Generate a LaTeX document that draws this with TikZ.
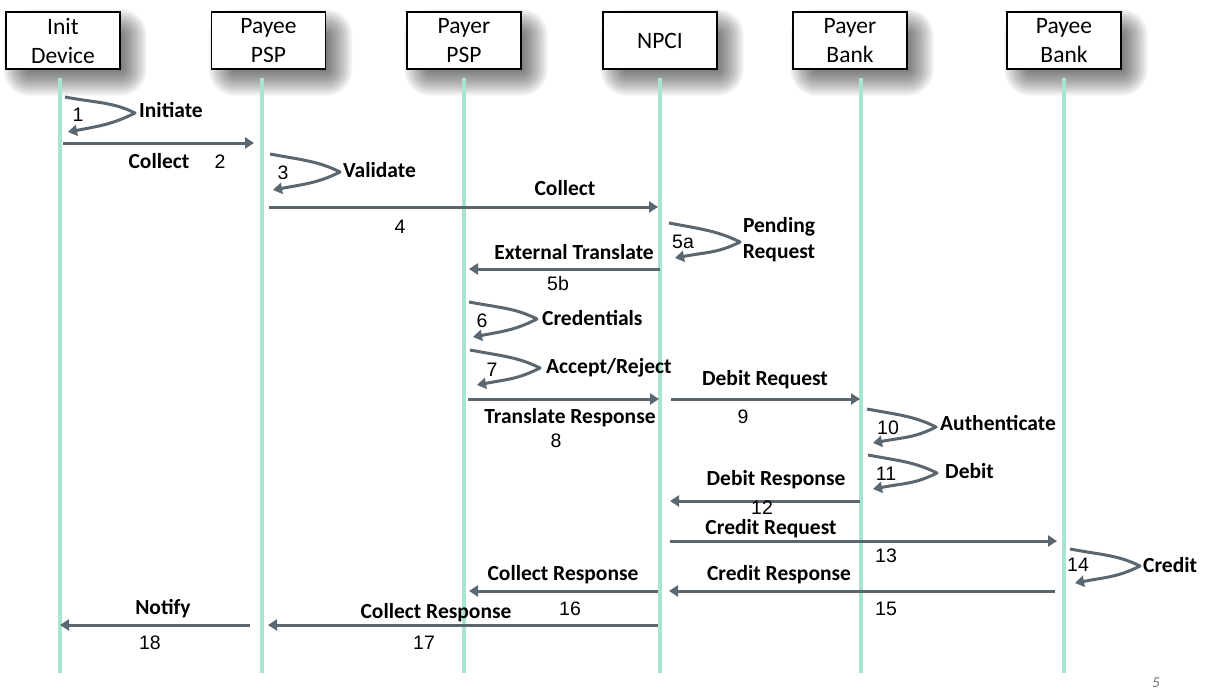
\documentclass[tikz,border=0pt]{standalone}
\usepackage{fontspec}
\setmainfont{Carlito}
\newfontfamily\numfont{Liberation Sans}
\usetikzlibrary{arrows.meta,backgrounds}
\definecolor{lifegreen}{RGB}{166,230,208}
\definecolor{msggray}{RGB}{90,103,112}

\begin{document}
\begin{tikzpicture}[x=1pt,y=-1pt,
    actor/.style={draw,line width=1.2pt,fill=white,minimum width=114pt,minimum height=57pt,
      align=center,font=\fontsize{23.5}{29}\selectfont},
    life/.style={lifegreen,line width=4pt},
    msg/.style={msggray,line width=3pt,line join=round,-{Triangle[length=9pt,width=11pt]}},
    lbl/.style={font=\fontsize{21.5}{26}\selectfont\bfseries,align=center,inner sep=0pt,
      text height=14pt,text depth=4pt},
    num/.style={font=\numfont\fontsize{19.5}{22}\selectfont,inner sep=0pt,
      text height=14pt,text depth=0pt}]
  \useasboundingbox (0,0) rectangle (1205,691);

  % actors
  \node[actor] (init) at (63,40.5) {Init\\Device};
  \node[actor] (payeepsp) at (268.5,40.5) {Payee\\PSP};
  \node[actor] (payerpsp) at (464,40.5) {Payer\\PSP};
  \node[actor] (npci) at (660,40.5) {NPCI};
  \node[actor] (payerbank) at (850,40.5) {Payer\\Bank};
  \node[actor] (payeebank) at (1064,40.5) {Payee\\Bank};

  % soft shadows
  \begin{scope}[on background layer]
    \foreach \b in {init,payeepsp,payerpsp,npci,payerbank,payeebank}
      \foreach \i in {0,...,13}
        \fill[black,opacity=0.05,rounded corners=2*\i pt]
          ([shift={(24-2*\i,2*\i)}]\b.south west) rectangle ([shift={(2*\i,24-2*\i)}]\b.north east);
  \end{scope}

  % lifelines
  \foreach \n/\x in {init/60,payeepsp/262,payerpsp/464,npci/660,payerbank/861,payeebank/1064}{
    \coordinate (\n-top) at (\x,78);
    \coordinate (\n-bot) at (\x,673);
    \draw[life] (\n-top) -- (\n-bot);
  }

  % messages
  \foreach \n/\a/\b/\y in {2/63/254/143,4/269/658/207,5b/660/469/269,8/468/659/399,
      9/671/860/399,12/860/670/501,13/670/1057/541,15/1055/669/591,16/658/469/591,
      17/658/268/625,18/250/60/625}{
    \coordinate (m\n-from) at (\a,\y);
    \coordinate (m\n-to) at (\b,\y);
    \draw[msg] (m\n-from) -- (m\n-to);
  }

  % self calls
  \foreach \n/\sx/\sy/\tx/\ty/\rx/\ry in {1/65/97/135/113/68/132,3/270/154/340/172/273/190,
      5a/669/223/740/242/675/258,6/469/302/537/319/473/337,7/470/350/540/368/477/385,
      10/867/409/936/427/873/443,11/868/455/937/473/873/489,14/1070/549/1140/566/1075/583}{
    \coordinate (s\n) at (\sx,\sy);
    \coordinate (t\n) at (\tx,\ty);
    \coordinate (r\n) at (\rx,\ry);
    \draw[msg] (s\n) .. controls +(32,6) and +(-22,-11) .. (t\n)
      .. controls +(-22,11) and +(32,-6) .. (r\n);
  }

  % labels
  \foreach \n/\x/\y/\t in {2/159/163/Collect,4/565/190/Collect,5b/574/254/External Translate,
      8/570/418/Translate Response,9/765/380/Debit Request,12/776/480/Debit Response,
      13/771/529/Credit Request,15/779/575/Credit Response,16/563/575/Collect Response,
      17/436/613/Collect Response,18/163/609/Notify}
    \node[lbl] (lbl\n) at (\x,\y) {\t};
  \foreach \n/\x/\y/\t in {1/139/112/Initiate,3/343/172/Validate,6/542/320/Credentials,
      7/546/368/{Accept/Reject},10/940/425/Authenticate,11/945/473/Debit,14/1143/567/Credit}
    \node[lbl,anchor=west] (lbl\n) at (\x,\y) {\t};
  \node[lbl,text height=,text depth=] (lbl5a) at (779,240) {Pending\\Request};

  % step numbers
  \foreach \n/\x/\y in {1/78/114,2/220/161,3/283/172,4/400/226,5a/683/241,5b/558/283,
      6/482/320,7/492/369,8/556/440,9/743/416,10/888/427,11/886/473,12/762/507,
      13/886/555,14/1078/564,15/886/608,16/570/608,17/424/642,18/150/642}
    \node[num] (num\n) at (\x,\y) {\n};

  \node[font=\fontsize{15}{17}\selectfont\itshape,text=black!55] (page) at (1156,683) {5};
\end{tikzpicture}
\end{document}
